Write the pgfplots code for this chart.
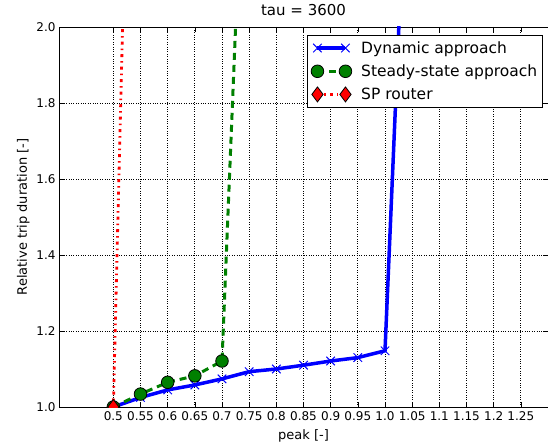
\documentclass[border=0pt]{standalone}
\usepackage{pgfplots}
\pgfplotsset{compat=1.18}
\usepackage{fontspec}
\setmainfont{DejaVu Sans}
\definecolor{mplgreen}{rgb}{0,0.5,0}
\begin{document}
\begin{tikzpicture}
\begin{axis}[
  scale only axis, width=489pt, height=380pt,
  xmin=0.4, xmax=1.3, ymin=1.0, ymax=2.0,
  xtick={0.5,0.55,0.6,0.65,0.7,0.75,0.8,0.85,0.9,0.95,1.0,1.05,1.1,1.15,1.2,1.25},
  xticklabels={0.5,0.55,0.6,0.65,0.7,0.75,0.8,0.85,0.9,0.95,1.0,1.05,1.1,1.15,1.2,1.25},
  ytick={1.0,1.2,1.4,1.6,1.8,2.0},
  yticklabels={1.0,1.2,1.4,1.6,1.8,2.0},
  /pgf/number format/assume math mode=true,
  tick align=inside, major tick length=5pt,
  tick style={black, line width=0.6pt},
  axis line style={black, line width=0.8pt},
  grid=major, grid style={dotted, black, line width=0.7pt},
  ticklabel style={font=\fontsize{12}{13}\selectfont},
  xticklabel style={yshift=-1pt},
  title={tau = 3600},
  title style={font=\fontsize{15}{16}\selectfont, at={(axis description cs:0.5,1)}, anchor=base, yshift=5pt},
  xlabel={peak [-]}, ylabel={Relative trip duration [-]},
  label style={font=\fontsize{13}{14}\selectfont},
  xlabel style={at={(axis description cs:0.5,0)}, anchor=base, yshift=-32pt},
  clip marker paths=true,
  legend style={at={(0.99,0.979)}, anchor=north east, draw=black, line width=0.8pt,
    font=\fontsize{15.5}{16}\selectfont, cells={anchor=west}, row sep=6pt,
    inner xsep=3.5pt, inner ysep=4pt},
  legend image code/.code={\draw[#1] plot coordinates {(0pt,0pt) (28pt,0pt)};\path (40pt,0pt);},
]
\addplot[blue, line width=3.5pt, mark=x, mark size=6pt, mark options={solid, line width=1pt}]
  coordinates {(0.5,1.0) (0.55,1.025) (0.6,1.045) (0.65,1.058) (0.7,1.074) (0.75,1.093)
  (0.8,1.10) (0.85,1.11) (0.9,1.121) (0.95,1.13) (1.0,1.148) (1.05,2.82)};
\addlegendentry{Dynamic approach}
\addplot[mplgreen, line width=3pt, dash pattern=on 7pt off 5pt, mark=*, mark size=6.3pt,
  mark options={solid, fill=mplgreen, draw=black, line width=0.8pt}]
  coordinates {(0.5,1.0) (0.55,1.034) (0.6,1.065) (0.65,1.082) (0.7,1.121) (0.75,2.88)};
\addlegendentry{Steady-state approach}
\addplot[red, line width=2.8pt, dash pattern=on 3pt off 4pt on 1.5pt off 4pt, mark=diamond*, mark size=7.5pt,
  mark options={solid, fill=red, draw=black, line width=0.8pt}]
  coordinates {(0.5,1.0) (0.55,3.94)};
\addlegendentry{SP router}
\end{axis}
\pgfresetboundingbox
\useasboundingbox (current axis.south west) ++(-59pt,-40pt) rectangle ([yshift=27pt]current axis.north east);
\end{tikzpicture}
\end{document}
